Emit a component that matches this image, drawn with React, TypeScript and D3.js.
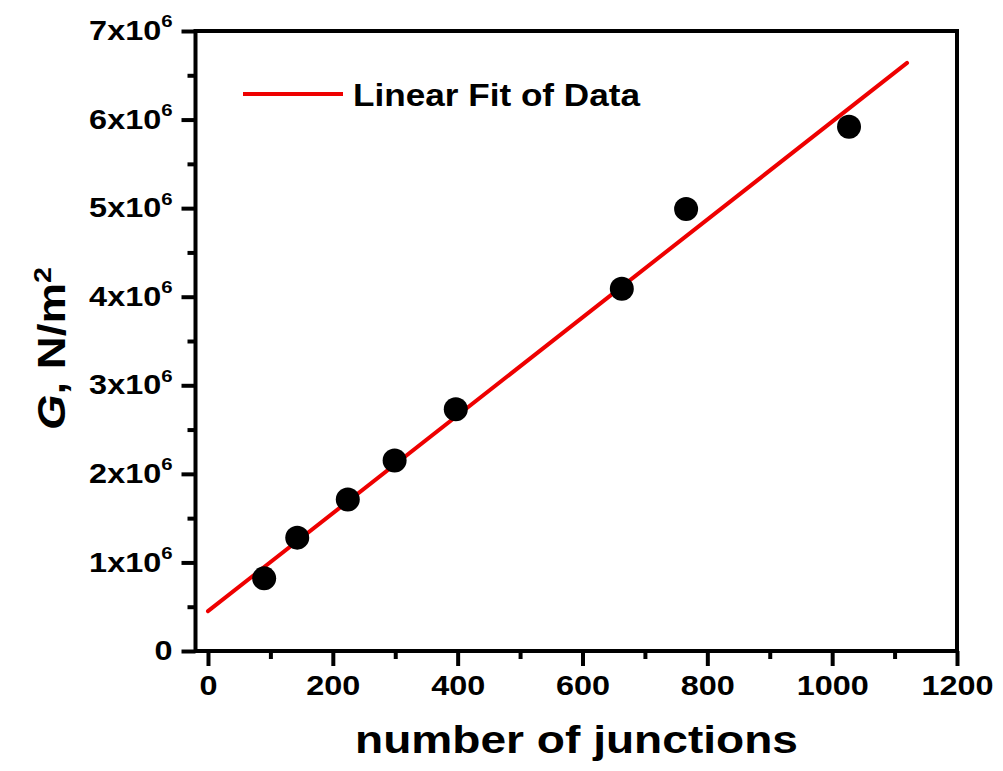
import React, { useEffect, useRef } from 'react';
import * as d3 from 'd3';

const W = 1003, H = 771;
const FONT = '"Liberation Sans", Arial, sans-serif';
const SX = 1.2; // glyphs in the original are a bit wider than Arial

// axis ticks
const X_TICKS = [0, 200, 400, 600, 800, 1000, 1200];
const X_MINOR = [100, 300, 500, 700, 900, 1100];
const Y_TICKS = [0, 1e6, 2e6, 3e6, 4e6, 5e6, 6e6, 7e6];
const Y_MINOR = [0.5e6, 1.5e6, 2.5e6, 3.5e6, 4.5e6, 5.5e6, 6.5e6];

// measured data
const junctions = [90, 143, 224, 299, 397, 663, 766, 1027];
const modulus = [0.82e6, 1.28e6, 1.71e6, 2.15e6, 2.73e6, 4.09e6, 4.99e6, 5.92e6];

// linear fit endpoints
const fitX = [0, 1120];
const fitY = [0.45e6, 6.64e6];

const LEGEND_LABEL = 'Linear Fit of Data';
const X_TITLE = 'number of junctions';

export default function App() {
  const ref = useRef<SVGSVGElement | null>(null);

  useEffect(() => {
    const svg = d3.select(ref.current);
    svg.selectAll('*').remove();

    const x = d3.scaleLinear().domain([-20, 1200]).range([195.5, 957]);
    const y = d3.scaleLinear().domain([0, 7e6]).range([651, 31]);
    const [x0, x1] = x.range();
    const [y0, y1] = y.range();

    // Ticks (outward)
    const xMinor = svg.append('g').attr('transform', `translate(0,${y0})`)
      .call(d3.axisBottom(x).tickValues(X_MINOR).tickSize(8).tickFormat(() => ''));
    const xMajor = svg.append('g').attr('transform', `translate(0,${y0})`)
      .call(d3.axisBottom(x).tickValues(X_TICKS).tickSize(15).tickPadding(10).tickFormat(d3.format('d')));
    const yMinor = svg.append('g').attr('transform', `translate(${x0},0)`)
      .call(d3.axisLeft(y).tickValues(Y_MINOR).tickSize(8).tickFormat(() => ''));
    const yMajor = svg.append('g').attr('transform', `translate(${x0},0)`)
      .call(d3.axisLeft(y).tickValues(Y_TICKS).tickSize(14).tickPadding(9));

    [xMinor, xMajor, yMinor, yMajor].forEach(a => {
      a.select('.domain').remove();
      a.selectAll('line').attr('stroke', '#000').attr('stroke-width', 4);
    });

    xMajor.selectAll('text')
      .attr('fill', '#000').attr('font-family', FONT).attr('font-weight', 'bold')
      .attr('font-size', 27).attr('transform', `scale(${SX},1)`);

    yMajor.selectAll<SVGTextElement, number>('.tick text').each(function (d) {
      const t = d3.select(this);
      const xx = +t.attr('x');
      t.text(null)
        .attr('fill', '#000').attr('font-family', FONT).attr('font-weight', 'bold')
        .attr('font-size', 27).attr('x', xx / SX).attr('transform', `scale(${SX},1)`);
      if (d === 0) {
        t.append('tspan').text('0');
      } else {
        t.append('tspan').text(`${d / 1e6}x10`);
        t.append('tspan').attr('dy', '-0.75em').attr('font-size', 17).text('6');
      }
    });

    // Frame
    svg.append('rect')
      .attr('x', x0).attr('y', y1).attr('width', x1 - x0).attr('height', y0 - y1)
      .attr('fill', 'none').attr('stroke', '#000').attr('stroke-width', 4);

    // Fit line
    const line = d3.line<number>().x(d => x(d)).y((_, i) => y(fitY[i]));
    svg.append('path')
      .attr('d', line(fitX))
      .attr('fill', 'none').attr('stroke', '#ee0000').attr('stroke-width', 4)
      .attr('stroke-linecap', 'round');

    // Data points
    svg.append('g').selectAll('circle')
      .data(junctions)
      .join('circle')
      .attr('cx', d => x(d))
      .attr('cy', (_, i) => y(modulus[i]))
      .attr('r', 12)
      .attr('fill', '#000');

    // Legend
    svg.append('line')
      .attr('x1', 243).attr('x2', 343).attr('y1', 94).attr('y2', 94)
      .attr('stroke', '#ee0000').attr('stroke-width', 4);
    svg.append('text')
      .attr('x', 353).attr('y', 106)
      .attr('font-family', FONT).attr('font-weight', 'bold').attr('font-size', 32)
      .attr('textLength', 287).attr('lengthAdjust', 'spacingAndGlyphs')
      .text(LEGEND_LABEL);

    // X title
    svg.append('text')
      .attr('x', 355).attr('y', 753)
      .attr('font-family', FONT).attr('font-weight', 'bold').attr('font-size', 39)
      .attr('textLength', 443).attr('lengthAdjust', 'spacingAndGlyphs')
      .text(X_TITLE);

    // Y title
    const yt = svg.append('text')
      .attr('transform', `translate(65,430) rotate(-90) scale(1.2,1)`)
      .attr('font-family', FONT).attr('font-weight', 'bold').attr('font-size', 38);
    yt.append('tspan').attr('font-style', 'italic').text('G');
    yt.append('tspan').text(', N/m');
    yt.append('tspan').attr('dy', '-0.6em').attr('font-size', 24).text('2');
  }, []);

  return (
    <svg ref={ref} width={W} height={H}
      style={{ position: 'absolute', left: 0, top: 0, background: '#fff' }} />
  );
}
